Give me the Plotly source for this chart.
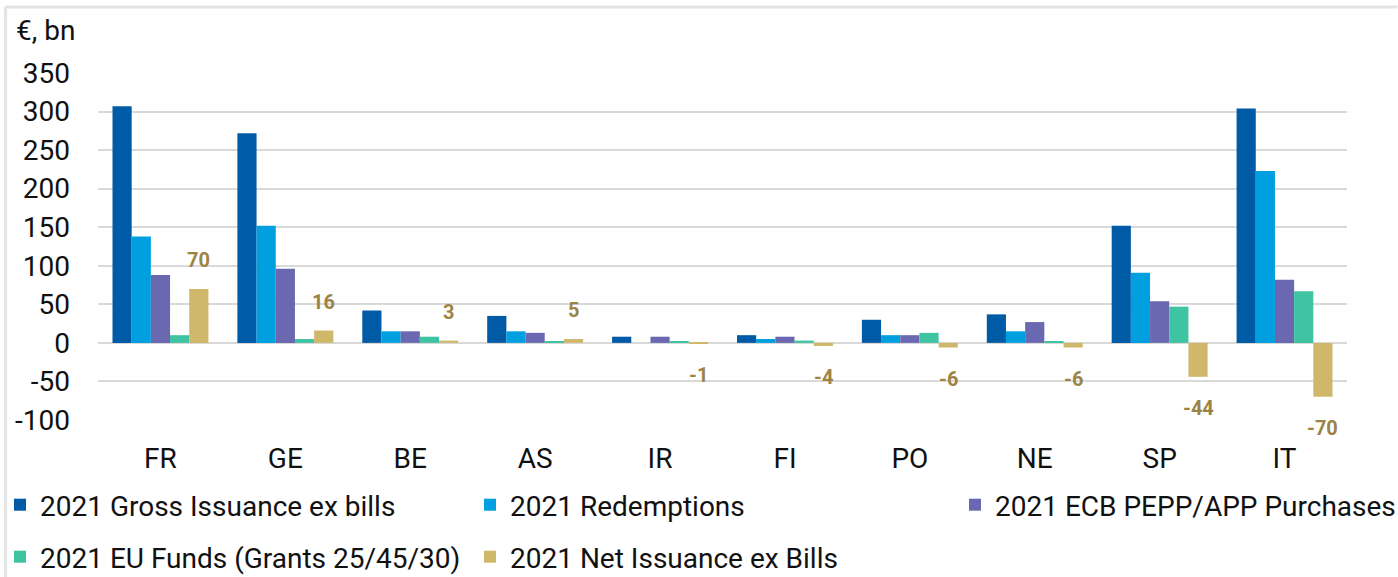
import plotly.graph_objects as go

countries = ["FR", "GE", "BE", "AS", "IR", "FI", "PO", "NE", "SP", "IT"]
gross = [307, 272, 42, 35, 8, 10, 30, 37, 152, 304]
redemptions = [138, 152, 15, 15, 0, 5, 10, 15, 91, 223]
ecb = [88, 96, 15, 13, 8, 8, 10, 27, 54, 82]
eu_funds = [10, 5, 8, 2, 2, 3, 13, 2, 47, 67]
net = [70, 16, 3, 5, -1, -4, -6, -6, -44, -70]
y_ticks = [-100, -50, 0, 50, 100, 150, 200, 250, 300, 350]

names = ["2021 Gross Issuance ex bills", "2021 Redemptions", "2021 ECB PEPP/APP Purchases",
         "2021 EU Funds (Grants 25/45/30)", "2021 Net Issuance ex Bills"]
series = [gross, redemptions, ecb, eu_funds, net]
colors = ["#005BA6", "#009FE0", "#6A68B1", "#3EC4A3", "#D0B86A"]
legends = ["legend", "legend", "legend3", "legend2", "legend2"]

FONT = "Roboto"
W, H = 1398, 577
L, R, T, B = 97.5, 50.5, 73, 157
PW, PH = W - L - R, H - T - B


def px_x(x):
    return (x - L) / PW


def px_y(y):
    return 1 - (y - T) / PH


fig = go.Figure()
for name, vals, col, lg in zip(names, series, colors, legends):
    fig.add_trace(go.Bar(x=countries, y=vals, name=name, marker_color=col,
                         marker_line_width=0, legend=lg))

# data labels for net issuance (5th bar of each group)
bar_px = PW / len(countries) * (1 - 0.232) / 5
for c, v in zip(countries, net):
    fig.add_annotation(x=c, y=v, xref="x", yref="y", text=f"{v}", showarrow=False,
                       xshift=2 * bar_px, yshift=29 if v >= 0 else -31,
                       font=dict(family=FONT, size=20, color="#9C8445", weight="bold"))

fig.add_annotation(xref="paper", yref="paper", x=px_x(13), y=px_y(30),
                   xanchor="left", yanchor="middle", text="€, bn", showarrow=False,
                   font=dict(family=FONT, size=28, color="#111111"))

# outer chart-area border (top and left)
fig.add_shape(type="line", xref="paper", yref="paper",
              x0=px_x(5), x1=px_x(W), y0=px_y(7), y1=px_y(7),
              line=dict(color="#E3E3E3", width=3))
fig.add_shape(type="line", xref="paper", yref="paper",
              x0=px_x(5), x1=px_x(5), y0=px_y(H), y1=px_y(7),
              line=dict(color="#E3E3E3", width=3))

legend_style = dict(orientation="h", xref="container", yref="container",
                    xanchor="left", yanchor="middle", entrywidth=425,
                    font=dict(family=FONT, size=28, color="#111111"),
                    bgcolor="rgba(0,0,0,0)", itemsizing="constant")

fig.update_layout(
    width=W, height=H,
    margin=dict(l=L, r=R, t=T, b=B, autoexpand=False),
    paper_bgcolor="white", plot_bgcolor="white",
    barmode="group", bargap=0.232, bargroupgap=0,
    font=dict(family=FONT, size=28, color="#111111"),
    showlegend=True,
    legend=dict(legend_style, x=0, y=1 - 505 / H),
    legend3=dict(legend_style, x=955 / W, y=1 - 505 / H),
    legend2=dict(legend_style, x=0, y=1 - 557 / H),
    xaxis=dict(showgrid=False, showline=False, ticks="outside", ticklen=13,
               tickcolor="rgba(0,0,0,0)", tickfont=dict(family=FONT, size=28, color="#111111")),
    yaxis=dict(range=[-100, 350], tickvals=y_ticks, ticktext=[str(v) for v in y_ticks],
               showgrid=True, gridcolor="#D9D9D9",
               gridwidth=2, zeroline=True, zerolinecolor="#D9D9D9", zerolinewidth=2,
               showline=False, ticklabelstandoff=27,
               tickfont=dict(family=FONT, size=28, color="#111111")),
)

fig.write_html("out.html", config={"displayModeBar": False},
               post_script="document.body.style.margin='0';")
